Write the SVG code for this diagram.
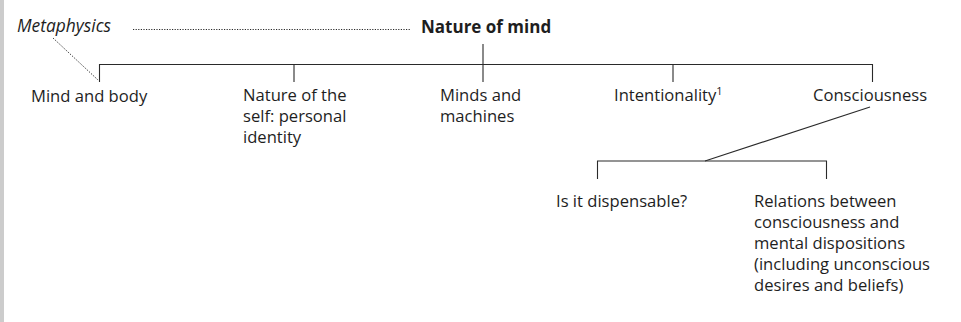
<svg xmlns="http://www.w3.org/2000/svg" width="961" height="322" viewBox="0 0 961 322">
  <style>
    text { font-family: "Open Sans", "Noto Sans", "Liberation Sans", sans-serif; font-size: 16.6px; fill: #1e1e1e; }
    .it { font-style: italic; font-size: 17.4px; }
    .bold { font-weight: bold; font-size: 17px; }
    .line { stroke: #2a2a2a; stroke-width: 1.1; fill: none; }
    .dot { stroke: #2a2a2a; stroke-width: 1; fill: none; stroke-dasharray: 1.2 1.4; }
  </style>
  <rect x="0" y="0" width="961" height="322" fill="#ffffff"/>
  <rect x="0" y="0" width="4" height="322" fill="#cccccc"/>

  <g id="connectors">
    <path class="dot" d="M133 29.5 H410"/>
    <path class="dot" d="M53 38 L98 80"/>
    <path class="line" d="M483 44 V82"/>
    <path class="line" d="M99.5 82 V64.5 H872.5 V82"/>
    <path class="line" d="M294 64.5 V82"/>
    <path class="line" d="M673 64.5 V82"/>
    <path class="line" d="M870 107 L705 161"/>
    <path class="line" d="M597.5 179 V161 H826.5 V179"/>
  </g>

  <g id="metaphysics"><text class="it" x="17" y="32">Metaphysics</text></g>
  <g id="nature-of-mind"><text class="bold" x="421" y="33">Nature of mind</text></g>
  <g id="mind-and-body"><text x="31" y="102">Mind and body</text></g>
  <g id="nature-of-self">
    <text x="243" y="101">Nature of the</text>
    <text x="243" y="122">self: personal</text>
    <text x="243" y="143">identity</text>
  </g>
  <g id="minds-and-machines">
    <text x="440" y="101">Minds and</text>
    <text x="440" y="122">machines</text>
  </g>
  <g id="intentionality"><text x="614" y="101">Intentionality<tspan dy="-6" font-size="11">1</tspan></text></g>
  <g id="consciousness"><text x="813" y="101">Consciousness</text></g>
  <g id="dispensable"><text x="556" y="207">Is it dispensable?</text></g>
  <g id="relations">
    <text x="754" y="207">Relations between</text>
    <text x="754" y="228">consciousness and</text>
    <text x="754" y="249">mental dispositions</text>
    <text x="754" y="270">(including unconscious</text>
    <text x="754" y="291">desires and beliefs)</text>
  </g>
</svg>
